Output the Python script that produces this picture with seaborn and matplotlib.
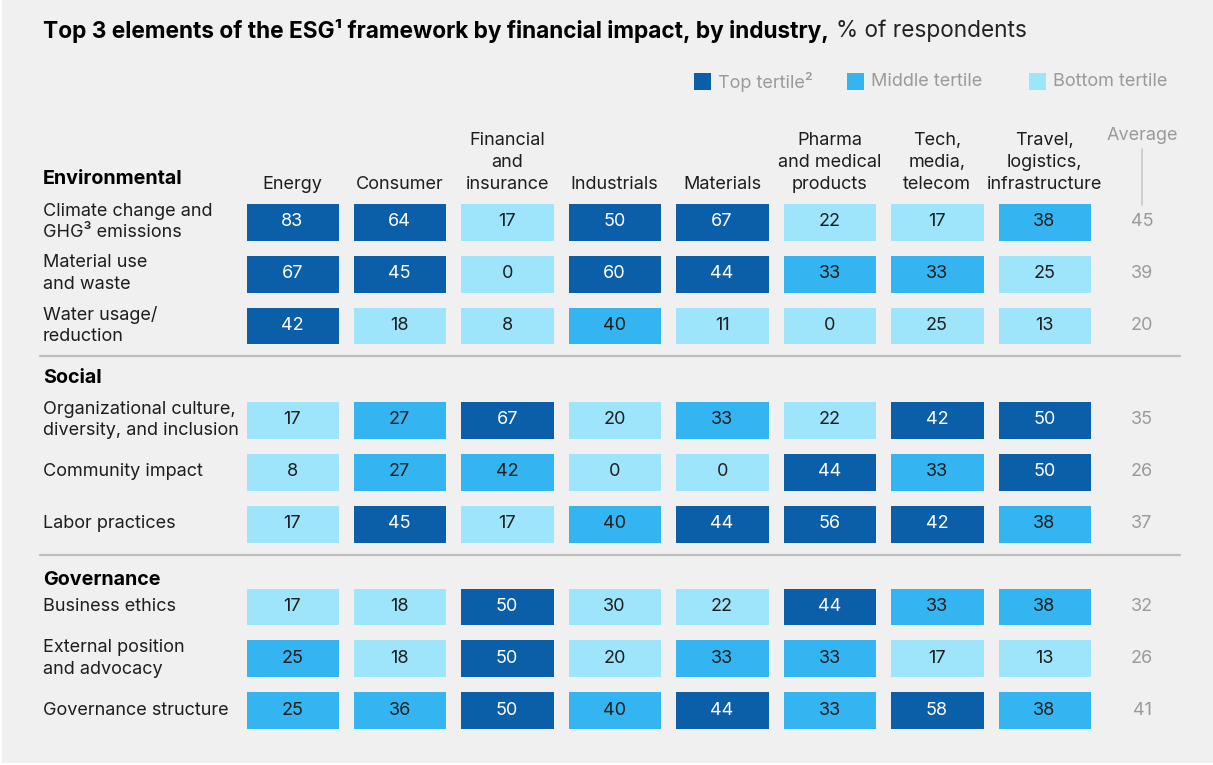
import matplotlib.pyplot as plt
import pandas as pd
import seaborn as sns
from matplotlib.colors import ListedColormap
from matplotlib.lines import Line2D
from matplotlib.patches import Rectangle

# ---------------- data ----------------
industries = ['Energy', 'Consumer', 'Financial\nand\ninsurance', 'Industrials', 'Materials',
              'Pharma\nand medical\nproducts', 'Tech,\nmedia,\ntelecom', 'Travel,\nlogistics,\ninfrastructure']

groups = ['Environmental', 'Social', 'Governance']

env_labels = ['Climate change and\nGHG\u00b3 emissions', 'Material use\nand waste', 'Water usage/\nreduction']
env_values = [[83, 64, 17, 50, 67, 22, 17, 38],
              [67, 45, 0, 60, 44, 33, 33, 25],
              [42, 18, 8, 40, 11, 0, 25, 13]]
env_tiers = [[2, 2, 0, 2, 2, 0, 0, 1],
             [2, 2, 0, 2, 2, 1, 1, 0],
             [2, 0, 0, 1, 0, 0, 0, 0]]
env_avg = [45, 39, 20]

soc_labels = ['Organizational culture,\ndiversity, and inclusion', 'Community impact', 'Labor practices']
soc_values = [[17, 27, 67, 20, 33, 22, 42, 50],
              [8, 27, 42, 0, 0, 44, 33, 50],
              [17, 45, 17, 40, 44, 56, 42, 38]]
soc_tiers = [[0, 1, 2, 0, 1, 0, 2, 2],
             [0, 1, 1, 0, 0, 2, 1, 2],
             [0, 2, 0, 1, 2, 2, 2, 1]]
soc_avg = [35, 26, 37]

gov_labels = ['Business ethics', 'External position\nand advocacy', 'Governance structure']
gov_values = [[17, 18, 50, 30, 22, 44, 33, 38],
              [25, 18, 50, 20, 33, 33, 17, 13],
              [25, 36, 50, 40, 44, 33, 58, 38]]
gov_tiers = [[0, 0, 2, 0, 0, 2, 1, 1],
             [1, 0, 2, 0, 1, 1, 0, 0],
             [1, 1, 2, 1, 2, 1, 2, 1]]
gov_avg = [32, 26, 41]

tier_names = ['Bottom tertile', 'Middle tertile', 'Top tertile\u00b2']
tier_colors = ['#9EE5FC', '#35B4F2', '#0B5EA8']

# ---------------- style ----------------
BG = '#F0F0F0'
GREY = '#9A9A9A'
DARK = '#1E1E1E'
W, H = 1213, 765
FS = 13

sns.set_theme(style='white')
plt.rcParams['font.family'] = ['Inter', 'DejaVu Sans']

fig = plt.figure(figsize=(W / 100, H / 100), dpi=100, facecolor='white')


def fx(px):
    return px / W


def fy(py):
    return 1 - py / H


# grey panel (thin white margin on the left/bottom as in the source image)
fig.add_artist(Rectangle((fx(2), fy(763)), fx(W - 2), 763 / H, facecolor=BG,
                         edgecolor='none', transform=fig.transFigure, zorder=-10))

cmap = ListedColormap(tier_colors)
col_left, col_right = 238.5, 1098.2
col_w = (col_right - col_left) / len(industries)
avg_x = (1142 - col_left) / col_w   # x of the average column in data units

# pixel top/bottom of each block
blocks = [
    (env_labels, env_values, env_tiers, env_avg, 196.0, 351.5, 179),
    (soc_labels, soc_values, soc_tiers, soc_avg, 394.0, 549.5, 378),
    (gov_labels, gov_values, gov_tiers, gov_avg, 580.5, 736.0, 580),
]

for k, (labels, values, tiers, avg, top, bot, head_y) in enumerate(blocks):
    ax = fig.add_axes([fx(col_left), fy(bot), fx(col_right - col_left), (bot - top) / H])
    df_tier = pd.DataFrame(tiers, index=labels, columns=industries)
    df_vals = pd.DataFrame(values, index=labels, columns=industries)
    sns.heatmap(df_tier, ax=ax, cmap=cmap, vmin=-0.5, vmax=2.5, cbar=False,
                annot=df_vals, fmt='d', annot_kws={'fontsize': FS},
                linewidths=10.8, linecolor=BG)
    for t, tr in zip(ax.texts, [v for row in tiers for v in row]):
        t.set_color('white' if tr == 2 else DARK)

    ax.set_xlabel('')
    ax.set_ylabel('')
    ax.set_yticklabels(labels, rotation=0, ha='left', fontsize=FS, color=DARK,
                       linespacing=1.35)
    ax.tick_params(axis='y', length=0, pad=(col_left - 43) * 0.72)
    if k == 0:
        ax.xaxis.tick_top()
        ax.set_xticklabels(industries, rotation=0, ha='center', va='bottom',
                           fontsize=FS, color=DARK, linespacing=1.4)
        ax.tick_params(axis='x', length=0, pad=2)
    else:
        ax.set_xticks([])
    for s in ax.spines.values():
        s.set_visible(False)

    # averages
    for i, a in enumerate(avg):
        ax.text(avg_x, i + 0.5, str(a), ha='center', va='center', fontsize=FS,
                color=GREY, clip_on=False)

    # group header
    fig.text(fx(43), fy(head_y), groups[k], ha='left', va='center',
             fontsize=14.2, fontweight='bold', color='black')

# separators
for yy in [356, 555]:
    fig.add_artist(Line2D([fx(40), fx(1180)], [fy(yy), fy(yy)], color='#BDBDBD', lw=1.6))

# average header
fig.text(fx(1142), fy(136), 'Average', ha='center', va='center', fontsize=FS, color=GREY)
fig.add_artist(Line2D([fx(1142), fx(1142)], [fy(149), fy(205)], color='#C8C8C8', lw=1.2))

# legend
legend_items = [(694, 2), (847, 1), (1029, 0)]
for x0, tr in legend_items:
    fig.add_artist(Rectangle((fx(x0), fy(90)), fx(17), 17 / H, facecolor=tier_colors[tr],
                             edgecolor='none', transform=fig.transFigure))
    fig.text(fx(x0 + 24), fy(82), tier_names[tr], ha='left', va='center',
             fontsize=FS, color=GREY)

# title
t1 = fig.text(fx(43), fy(31), 'Top 3 elements of the ESG\u00b9 framework by financial impact, by industry,',
              ha='left', va='center', fontsize=16.3, fontweight='bold', color='black')
fig.canvas.draw()
bb = t1.get_window_extent(renderer=fig.canvas.get_renderer())
fig.text((bb.x1 + 7) / W, fy(31), '% of respondents', ha='left', va='center',
         fontsize=16.3, color='#222222')

fig.savefig('out.png', dpi=100, facecolor='white')
